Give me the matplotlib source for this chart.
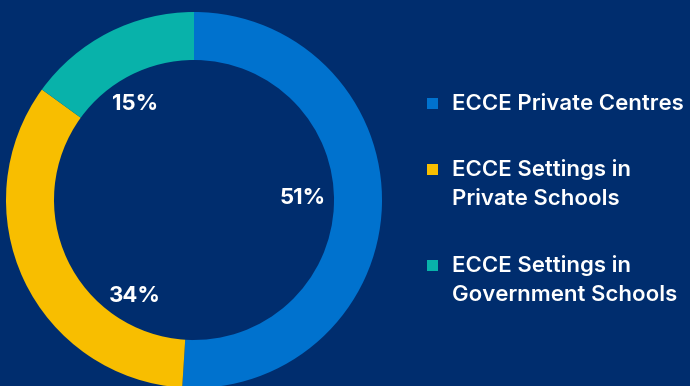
import matplotlib.pyplot as plt
from matplotlib.patches import Rectangle

categories = ['ECCE Private Centres',
              'ECCE Settings in\nPrivate Schools',
              'ECCE Settings in\nGovernment Schools']
shares = [51, 34, 15]
colors = ['#0072CE', '#F8BE00', '#08B2AA']
bg = '#002D6E'

plt.rcParams['font.family'] = ['Inter', 'DejaVu Sans']

fig = plt.figure(figsize=(6.9, 3.86), dpi=100)
fig.patch.set_facecolor(bg)
ax = fig.add_axes([0, 0, 1, 1])
ax.set_facecolor(bg)

# donut in pixel-like units (y up)
cx, cy, r = 194, 186, 188
ax.pie(shares, colors=colors, startangle=90, counterclock=False,
       center=(cx, cy), radius=r, wedgeprops=dict(width=48, linewidth=0))

# percentage labels inside the ring (51%, 34%, 15%)
label_pos = [(303, 188), (135, 90), (135, 282)]
for v, (x, y) in zip(shares, label_pos):
    ax.text(x, y, f'{v}%', color='white', fontsize=16, fontweight='bold',
            ha='center', va='center')

# legend drawn by hand so the square sits on the first line;
# va='top' keeps every entry anchored at its first line
sq_y = [283, 217, 121]
top_y = [292, 227, 131]
for lab, c, ys, yt in zip(categories, colors, sq_y, top_y):
    ax.add_patch(Rectangle((427, ys - 5.5), 11, 11, color=c, linewidth=0))
    ax.text(452, yt, lab, color='white', fontsize=16, fontweight='semibold',
            ha='left', va='top', linespacing=1.55)

ax.set_xlim(0, 690)
ax.set_ylim(0, 386)
ax.set_aspect('equal')
ax.axis('off')

plt.savefig('out.png', facecolor=fig.get_facecolor())
